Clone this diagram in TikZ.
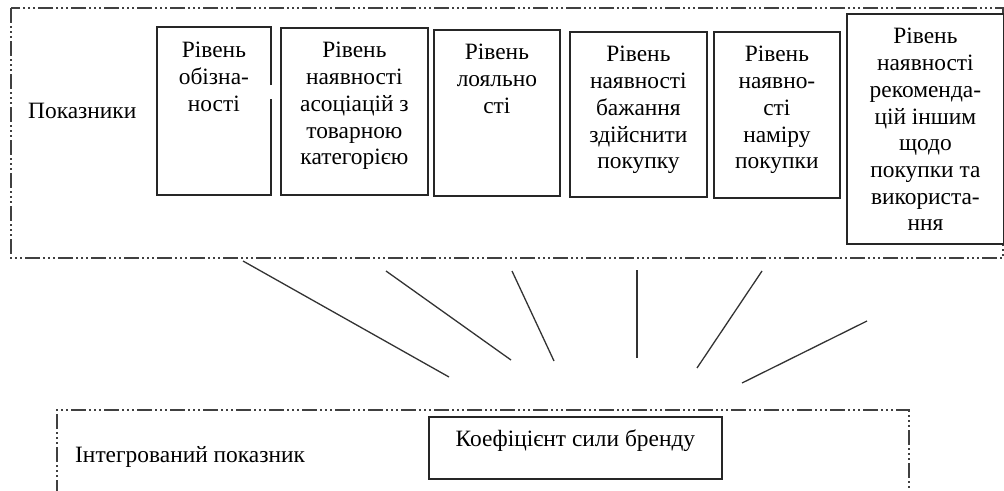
\documentclass[tikz,border=0pt]{standalone}
\usepackage{fontspec}
\setmainfont{Liberation Serif}
\newcommand{\bxt}[3]{\parbox[b][#2][t]{#1}{\fontsize{23.4}{26.7}\selectfont\centering\rule{0pt}{30pt}#3}}
\begin{document}
\begin{tikzpicture}[x=1pt,y=-1pt,
  ind/.style={draw=black!85, line width=1.8pt, fill=white, inner sep=0pt, anchor=north west},
  indline/.style={draw=black!85, line width=1.8pt},
  grp/.style={draw=black!75, line width=1.6pt, dash pattern=on 15pt off 3pt on 2pt off 3pt on 2pt off 3pt on 2pt off 3pt},
  link/.style={draw=black!80, line width=1.3pt},
  lbl/.style={inner sep=0pt, anchor=base west, font=\fontsize{23.4}{26.7}\selectfont}]
\useasboundingbox (0,0) rectangle (1004,490);
% outer groups
\draw[grp] (11,8) rectangle (1003,258);
\draw[grp] (57,495) -- (57,410) -- (909,410) -- (909,495);
% labels
\node[lbl] (pok) at (28,118) {Показники};
\node[lbl] (int) at (75,462) {Інтегрований показник};
% indicator boxes
\node[ind, draw=none] (b1) at (157,27) {\bxt{112pt}{166pt}{Рівень\\обізна-\\ності}};
\draw[indline] (b1.east |- 0,85) -- (b1.north east) -- (b1.north west) -- (b1.south west) -- (b1.south east) -- (b1.east |- 0,99);
\node[ind] (b2) at (280,27) {\bxt{147pt}{167pt}{Рівень\\наявності\\асоціацій з\\товарною\\категорією}};
\node[ind] (b3) at (433,29) {\bxt{126pt}{166pt}{Рівень\\лояльно\\сті}};
\node[ind] (b4) at (569,31) {\bxt{137pt}{165pt}{Рівень\\наявності\\бажання\\здійснити\\покупку}};
\node[ind] (b5) at (713,31) {\bxt{126pt}{166pt}{Рівень\\наявно-\\сті\\наміру\\покупки}};
\node[ind] (b6) at (846,13) {\bxt{157pt}{230pt}{Рівень\\наявності\\рекоменда-\\цій іншим\\щодо\\покупки та\\використа-\\ння}};
\node[ind] (b7) at (428,416) {\bxt{293pt}{62pt}{Коефіцієнт сили бренду}};
% connector lines
\coordinate (l1a) at (243,261); \coordinate (l1b) at (449,377);
\coordinate (l2a) at (386,271); \coordinate (l2b) at (511,360);
\coordinate (l3a) at (512,271); \coordinate (l3b) at (554,361);
\coordinate (l4a) at (637,270); \coordinate (l4b) at (637,358);
\coordinate (l5a) at (762,271); \coordinate (l5b) at (697,368);
\coordinate (l6a) at (867,321); \coordinate (l6b) at (742,383);
\draw[link] (l1a) -- (l1b);
\draw[link] (l2a) -- (l2b);
\draw[link] (l3a) -- (l3b);
\draw[link] (l4a) -- (l4b);
\draw[link] (l5a) -- (l5b);
\draw[link] (l6a) -- (l6b);
\end{tikzpicture}
\end{document}
